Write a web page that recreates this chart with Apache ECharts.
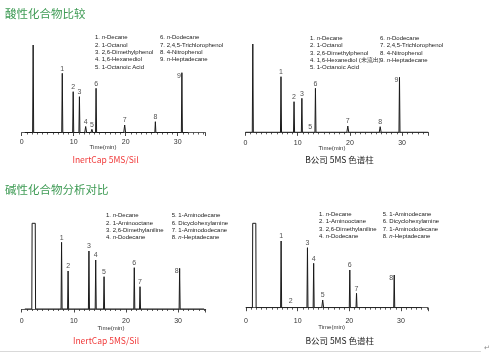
<!DOCTYPE html>
<html><head><meta charset="utf-8">
<script src="https://cdn.jsdelivr.net/npm/echarts@6/dist/echarts.min.js"></script>
<style>html,body{margin:0;padding:0;background:#fff}#c{width:495px;height:356px}</style>
</head><body><div id="c"></div>
<script>
// ---- DATA ----
// Acidic compounds, InertCap 5MS/Sil
const acidInertTimes   = [2.2, 7.8, 9.9, 11.1, 12.3, 13.5, 14.3, 19.8, 25.7, 30.8];
const acidInertHeights = [87.5, 59.2, 40.8, 35.8, 6.0, 3.2, 44.2, 7.5, 10.8, 59.8];
const acidInertLabels  = ['', '1', '2', '3', '4', '5', '6', '7', '8', '9'];
// Acidic compounds, B company 5MS
const acidBTimes   = [1.4, 6.8, 9.3, 10.8, 12.4, 13.4, 19.6, 25.8, 29.5];
const acidBHeights = [88.3, 55.6, 30.6, 34.0, 1.2, 44.0, 6.3, 5.6, 55.0];
const acidBLabels  = ['', '1', '2', '3', '5', '6', '7', '8', '9'];
// Basic compounds, InertCap 5MS/Sil
const baseInertTimes   = [2.3, 7.65, 8.9, 12.9, 14.2, 15.8, 21.6, 22.7, 30.3];
const baseInertHeights = [85.7, 66.7, 38.0, 58.0, 49.0, 32.3, 41.3, 22.3, 40.7];
const baseInertLabels  = ['', '1', '2', '3', '4', '5', '6', '7', '8'];
// Basic compounds, B company 5MS
const baseBTimes   = [1.6, 6.8, 8.65, 11.9, 13.1, 14.85, 20.1, 21.4, 28.7];
const baseBHeights = [84.4, 66.7, 1.7, 60.0, 44.4, 7.7, 37.7, 14.4, 32.7];
const baseBLabels  = ['', '1', '2', '3', '4', '5', '6', '7', '8'];
// trace extents (min)
const traceStart = [0.6, 0, 0.6, 0];
const traceEnd   = [32.0, 35.0, 35.0, 34.0];
// axis tick labels
const xTicks = [0, 10, 20, 30];

const acidNames = [
  ['1. {i|n}-Decane', '2. 1-Octanol', '3. 2,6-Dimethylphenol', '4. 1,6-Hexanediol', '5. 1-Octanoic Acid'],
  ['6. {i|n}-Dodecane', '7. 2,4,5-Trichlorophenol', '8. 4-Nitrophenol', '9. {i|n}-Heptadecane']
];
const acidNamesB = [
  ['1. {i|n}-Decane', '2. 1-Octanol', '3. 2,6-Dimethylphenol', '4. 1,6-Hexanediol (未流出)', '5. 1-Octanoic Acid'],
  ['6. {i|n}-Dodecane', '7. 2,4,5-Trichlorophenol', '8. 4-Nitrophenol', '9. {i|n}-Heptadecane']
];
const baseNames = [
  ['1. {i|n}-Decane', '2. 1-Aminooctane', '3. 2,6-Dimethylaniline', '4. {i|n}-Dodecane'],
  ['5. 1-Aminodecane', '6. Dicyclohexylamine', '7. 1-Aminododecane', '8. {i|n}-Heptadecane']
];

// ---- layout ----
const panels = [
  {t: acidInertTimes, h: acidInertHeights, l: acidInertLabels, left: 21.7, top: 32.5, max: 35.3, w: 183.6, off: 3.5, flat: false},
  {t: acidBTimes, h: acidBHeights, l: acidBLabels, left: 245.5, top: 32.3, max: 35, w: 182.7, off: 3.8, flat: false},
  {t: baseInertTimes, h: baseInertHeights, l: baseInertLabels, left: 21.7, top: 209, max: 35.3, w: 184, off: 5.3, flat: true},
  {t: baseBTimes, h: baseBHeights, l: baseBLabels, left: 246, top: 207.7, max: 35.2, w: 181.8, off: 6.6, flat: true}
];

const grid = [], xAxis = [], yAxis = [], series = [];
panels.forEach((p, i) => {
  grid.push({left: p.left, top: p.top, width: p.w, height: 100});
  xAxis.push({
    type: 'value', gridIndex: i, min: 0, max: p.max, interval: 10, offset: p.off,
    axisLine: {lineStyle: {color: '#333', width: 0.8}},
    axisTick: {length: 3.5, lineStyle: {color: '#333', width: 0.9}},
    minorTick: {show: true, splitNumber: 10, length: 2, lineStyle: {color: '#333', width: 0.8}},
    splitLine: {show: false},
    axisLabel: {fontSize: 7, color: '#333', margin: 3, fontFamily: 'Liberation Sans',
      formatter: v => xTicks.indexOf(v) >= 0 ? String(v) : '', showMaxLabel: false}
  });
  yAxis.push({type: 'value', gridIndex: i, min: 0, max: 100, show: false});
  const pts = [[traceStart[i], 0]];
  p.t.forEach((t, k) => {
    const h = p.h[k];
    if (k === 0 && p.flat) {
      pts.push([t - 0.36, 0], [t - 0.3, h], [t + 0.3, h], [t + 0.36, 0]);
    } else {
      const w = h < 10 ? 0.18 : 0.1;
      pts.push([t - w, 0], [t, h], [t + w, 0]);
    }
  });
  pts.push([traceEnd[i], 0]);
  series.push({type: 'line', xAxisIndex: i, yAxisIndex: i, data: pts, symbol: 'none',
    lineStyle: {color: '#1a1a1a', width: 1}, silent: true, animation: false});
  const lab = [];
  p.t.forEach((t, k) => { if (p.l[k]) lab.push({value: [t, p.h[k]], name: p.l[k], last: k === p.t.length - 1}); });
  series.push({type: 'scatter', xAxisIndex: i, yAxisIndex: i, symbolSize: 0, animation: false,
    data: lab.map(d => ({value: d.value, name: d.name,
      label: d.last ? {position: 'left', distance: 1, offset: [0, 3]} : {position: 'top', distance: 1}})),
    label: {show: true, formatter: '{b}', fontSize: 7, color: '#222', fontFamily: 'Liberation Sans'}});
});

const graphic = [];
function ctext(x, y, s, style) {
  graphic.push({type: 'text', x: x, y: y, style: Object.assign({text: s, textAlign: 'center', textVerticalAlign: 'middle'}, style)});
}
function legend(cols, x1, x2, y0) {
  cols.forEach((col, c) => col.forEach((s, r) => {
    graphic.push({type: 'text', x: c === 0 ? x1 : x2, y: y0 + r * 7.3, style: {
      text: s, fill: '#222', fontSize: 6, fontFamily: 'Liberation Sans', textVerticalAlign: 'middle',
      rich: {i: {fontStyle: 'italic', fontSize: 6, fontFamily: 'Liberation Sans', fill: '#222'}}}});
  }));
}
legend(acidNames, 95, 160, 37.7);
legend(acidNamesB, 310, 380, 38.3);
legend(baseNames, 106, 171.7, 215.7);
legend(baseNames, 319, 382.7, 214.3);

const green = '#3f9b55';
graphic.push({type: 'text', x: 5, y: 14, style: {text: '酸性化合物比较', fill: green, fontSize: 11.5, fontFamily: 'Noto Sans CJK SC', textVerticalAlign: 'middle'}});
graphic.push({type: 'text', x: 5, y: 190, style: {text: '碱性化合物分析对比', fill: green, fontSize: 11.5, fontFamily: 'Noto Sans CJK SC', textVerticalAlign: 'middle'}});

const tStyle = {fill: '#333', fontSize: 6, fontFamily: 'Liberation Sans'};
ctext(103, 147.5, 'Time(min)', tStyle);
ctext(332, 148, 'Time(min)', tStyle);
ctext(111, 328, 'Time(min)', tStyle);
ctext(331.7, 327.7, 'Time(min)', tStyle);

const redStyle = {fill: '#f03a3a', fontSize: 8.5, fontFamily: 'Noto Sans CJK SC'};
ctext(105.5, 159.5, 'InertCap 5MS/Sil', redStyle);
ctext(106, 340.7, 'InertCap 5MS/Sil', redStyle);
const bStyle = {fill: '#222', fontSize: 8.5, fontFamily: 'Noto Sans CJK SC'};
ctext(339.5, 160, 'B公司 5MS 色谱柱', bStyle);
ctext(339.7, 340.7, 'B公司 5MS 色谱柱', bStyle);

graphic.push({type: 'line', shape: {x1: 0, y1: 351.5, x2: 481, y2: 351.5}, style: {stroke: '#d9d9d9', lineWidth: 1}});
graphic.push({type: 'text', x: 484, y: 348, style: {text: '↵', fill: '#888', fontSize: 7, fontFamily: 'DejaVu Sans', textVerticalAlign: 'middle'}});

const chart = echarts.init(document.getElementById('c'), null, {renderer: 'canvas'});
chart.setOption({animation: false, grid, xAxis, yAxis, series, graphic});
</script></body></html>
